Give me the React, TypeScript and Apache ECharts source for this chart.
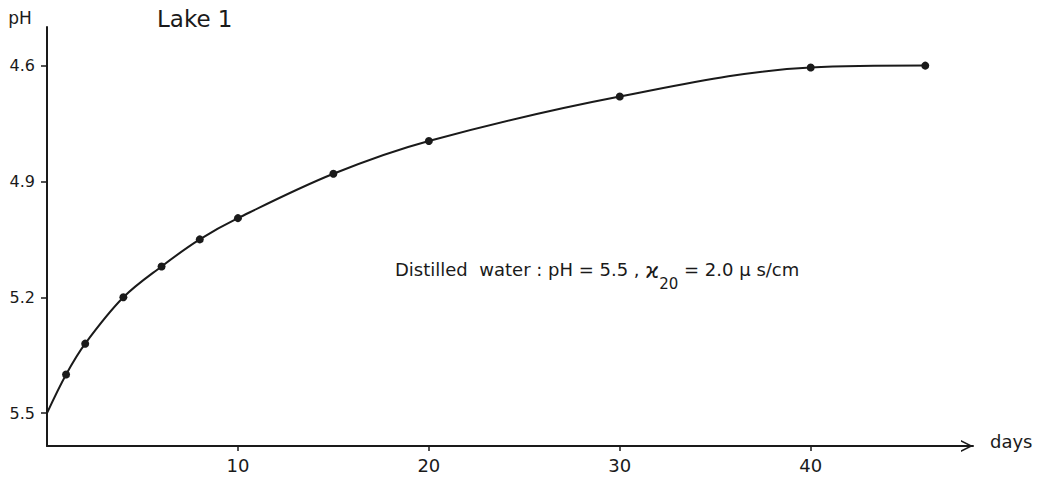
import { useEffect, useRef } from 'react';
import * as echarts from 'echarts';

const days = [0, 1, 2, 4, 6, 8, 10, 15, 20, 30, 40, 46];
const phValues = [5.5, 5.4, 5.32, 5.2, 5.12, 5.05, 4.995, 4.88, 4.795, 4.68, 4.605, 4.6];
const yTickValues = [4.6, 4.9, 5.2, 5.5];
const xTickValues = [10, 20, 30, 40];
const chartTitle = 'Lake 1';
const yAxisName = 'pH';
const xAxisName = 'days';
const noteMain = 'Distilled  water : pH = 5.5 , ';
const noteSymbol = 'ϰ';
const noteSub = '20';
const noteEnd = ' = 2.0 μ s/cm';

const FONT = '"DejaVu Sans", "Noto Sans", sans-serif';
const INK = '#1a1a1a';

export default function App() {
  const ref = useRef<HTMLDivElement>(null);
  useEffect(() => {
    if (!ref.current) return;
    const chart = echarts.init(ref.current, null, { renderer: 'svg' });
    const data = days.map((d, i) => ({
      value: [d, phValues[i]],
      symbol: i === 0 ? 'none' : 'circle',
    }));
    chart.setOption({
      animation: false,
      backgroundColor: '#ffffff',
      grid: { left: 47, right: 72, top: 27, bottom: 35, containLabel: false },
      xAxis: {
        type: 'value',
        min: 0,
        max: 48.5,
        name: xAxisName,
        nameLocation: 'end',
        nameGap: 17,
        nameTextStyle: { fontSize: 18, fontFamily: FONT, color: INK, verticalAlign: 'bottom', align: 'left', lineHeight: 10 },
        axisLine: {
          show: true,
          lineStyle: { color: INK, width: 2 },
          symbol: ['none', 'path://M0,10 L5,0 L10,10 L8.6,10 L5,2.8 L1.4,10 Z'],
          symbolSize: [14, 12],
          symbolOffset: [0, -6],
        },
        axisTick: { show: true, customValues: xTickValues, length: 5, lineStyle: { color: INK, width: 1.5 } },
        axisLabel: {
          customValues: xTickValues,
          fontSize: 18,
          fontFamily: FONT,
          color: INK,
          margin: 10,
        },
        splitLine: { show: false },
      },
      yAxis: {
        type: 'value',
        inverse: true,
        min: 4.5,
        max: 5.585,
        axisLine: { show: true, lineStyle: { color: INK, width: 2 } },
        axisTick: { show: true, customValues: yTickValues, length: 6, lineStyle: { color: INK, width: 1.5 } },
        axisLabel: {
          customValues: yTickValues,
          formatter: (v: number) => v.toFixed(1),
          fontSize: 16,
          fontFamily: FONT,
          color: INK,
          margin: 12,
        },
        splitLine: { show: false },
      },
      series: [
        {
          type: 'line',
          data,
          smooth: 0.35,
          symbolSize: 8,
          itemStyle: { color: INK },
          lineStyle: { color: INK, width: 2 },
        },
      ],
      graphic: [
        {
          type: 'text',
          x: 157,
          y: 19,
          style: { text: chartTitle, fontSize: 23, fontFamily: FONT, fill: INK, verticalAlign: 'middle', align: 'left' },
        },
        {
          type: 'text',
          x: 20,
          y: 18,
          style: { text: yAxisName, fontSize: 17, fontFamily: FONT, fill: INK, verticalAlign: 'middle', align: 'center' },
        },
        {
          type: 'text',
          x: 395,
          y: 260,
          style: {
            text: `{a|${noteMain}}{k|${noteSymbol}}{s|${noteSub}}{a|${noteEnd}}`,
            fontFamily: FONT,
            fill: INK,
            align: 'left',
            verticalAlign: 'top',
            rich: {
              a: { fontSize: 18, fontFamily: FONT, fill: INK, color: INK, lineHeight: 21, verticalAlign: 'top' },
              k: { fontSize: 21, fontFamily: FONT, fill: INK, color: INK, lineHeight: 21, verticalAlign: 'top' },
              s: { fontSize: 15, fontFamily: FONT, fill: INK, color: INK, lineHeight: 31, verticalAlign: 'bottom' },
            },
          },
        },
      ],
    });
    return () => chart.dispose();
  }, []);
  return <div ref={ref} style={{ position: 'absolute', left: 0, top: 0, width: 1045, height: 481 }} />;
}
